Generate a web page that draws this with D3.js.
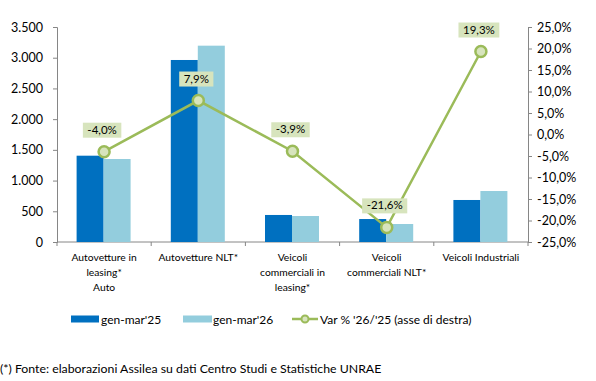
<!DOCTYPE html>
<html><head><meta charset="utf-8">
<script src="https://cdn.jsdelivr.net/npm/d3@7"></script>
<style>body{margin:0;background:#fff}svg{display:block}text{font-family:Lato,"Open Sans",sans-serif;fill:#000}</style>
</head><body><svg id="c" width="596" height="381"></svg>
<script>
const categories = [["Autovetture in","leasing*","Auto"],["Autovetture NLT*"],["Veicoli","commerciali in","leasing*"],["Veicoli","commerciali NLT*"],["Veicoli Industriali"]];
const series25 = [1405, 2963, 440, 374, 684];
const series26 = [1351, 3196, 423, 293, 830];
const varPct = [-4.0, 7.9, -3.9, -21.6, 19.3];
const leftTicks = [0,500,1000,1500,2000,2500,3000,3500];
const rightTicks = [-25,-20,-15,-10,-5,0,5,10,15,20,25];
const legendLabels = ["gen-mar'25","gen-mar'26","Var % '26/'25 (asse di destra)"];
const footnote = "(*) Fonte: elaborazioni Assilea su dati Centro Studi e Statistiche UNRAE";

const svg = d3.select("#c");
const L=57, R=528, T=27, B=242;
const x = d3.scaleBand().domain(d3.range(categories.length)).range([L,R]);
const xs = d3.scaleBand().domain([0,1]).range([0,54]);
const yL = d3.scaleLinear().domain([0,3500]).range([B,T]);
const yR = d3.scaleLinear().domain([-25,25]).range([B,T]);
const fmtL = d3.formatLocale({decimal:",",thousands:".",grouping:[3],currency:["",""],minus:"-"});
const fL = fmtL.format(",.0f");
const fR = v => fmtL.format(",.1f")(v)+"%";
const axisCol="#868686";

// left axis
const gl = svg.append("g").attr("transform",`translate(${L},0)`).call(d3.axisLeft(yL).tickValues(leftTicks).tickFormat(fL).tickSize(4).tickPadding(10));
gl.selectAll("path,line").attr("stroke",axisCol);
gl.selectAll("text").style("font-size","12.5px").attr("font-family",null);
// right axis
const gr = svg.append("g").attr("transform",`translate(${R},0)`).call(d3.axisRight(yR).tickValues(rightTicks).tickFormat(fR).tickSize(4).tickPadding(5));
gr.selectAll("path,line").attr("stroke",axisCol);
gr.selectAll("text").style("font-size","12.5px").attr("font-family",null);
// bottom axis
svg.append("line").attr("x1",L).attr("x2",R).attr("y1",B).attr("y2",B).attr("stroke",axisCol);
d3.range(categories.length+1).forEach(i=>{
  const xx = L + i*x.step();
  svg.append("line").attr("x1",xx).attr("x2",xx).attr("y1",B).attr("y2",B+4).attr("stroke",axisCol);
});

// bars
const groups = svg.append("g");
const off = (x.bandwidth()-54)/2 - 0.5;
[[series25,"#0070c0"],[series26,"#93cddd"]].forEach(([s,c],k)=>{
  groups.selectAll(null).data(s).join("rect")
    .attr("x",(d,i)=>x(i)+off+xs(k)).attr("width",xs.bandwidth())
    .attr("y",d=>yL(d)).attr("height",d=>B-yL(d)).attr("fill",c);
});

// category labels
categories.forEach((lines,i)=>{
  const t = svg.append("text").attr("text-anchor","middle").style("font-size","10.3px");
  lines.forEach((ln,j)=>t.append("tspan").attr("x",x(i)+x.bandwidth()/2).attr("y",261+j*15).text(ln));
});

// line
const cx = i => x(i)+x.bandwidth()/2;
const line = d3.line().x((d,i)=>cx(i)).y(d=>yR(d));
svg.append("path").datum(varPct).attr("d",line).attr("fill","none").attr("stroke","#9bbb59").attr("stroke-width",2.5);
svg.selectAll(null).data(varPct).join("circle").attr("cx",(d,i)=>cx(i)).attr("cy",d=>yR(d)).attr("r",5.5)
  .attr("fill","#d7e4bd").attr("stroke","#9bbb59").attr("stroke-width",2.5);
// labels
varPct.forEach((v,i)=>{
  const lbl = fR(v);
  const cy = yR(v)-22;
  const g = svg.append("g");
  const rct = g.append("rect");
  const t = g.append("text").attr("x",cx(i)-2).attr("y",cy+4).attr("text-anchor","middle").style("font-size","11.5px").text(lbl);
  const w = t.node().getComputedTextLength()+9;
  rct.attr("x",cx(i)-2-w/2).attr("y",cy-7).attr("width",w).attr("height",15).attr("fill","#d7e4bd");
});

// legend
const ly=319;
svg.append("rect").attr("x",71).attr("y",ly-3.5).attr("width",28).attr("height",7).attr("fill","#0070c0");
svg.append("text").attr("x",101).attr("y",ly+4.5).style("font-size","12px").text(legendLabels[0]);
svg.append("rect").attr("x",183).attr("y",ly-3.5).attr("width",29).attr("height",7).attr("fill","#93cddd");
svg.append("text").attr("x",213).attr("y",ly+4.5).style("font-size","12px").text(legendLabels[1]);
svg.append("line").attr("x1",292).attr("x2",318).attr("y1",ly).attr("y2",ly).attr("stroke","#9bbb59").attr("stroke-width",2.5);
svg.append("circle").attr("cx",305).attr("cy",ly).attr("r",3.5).attr("fill","#d7e4bd").attr("stroke","#9bbb59").attr("stroke-width",2);
svg.append("text").attr("x",320).attr("y",ly+4.5).style("font-size","12px").text(legendLabels[2]);

// footnote
svg.append("text").attr("x",0).attr("y",373).style("font-size","12.3px").text(footnote);
</script></body></html>
